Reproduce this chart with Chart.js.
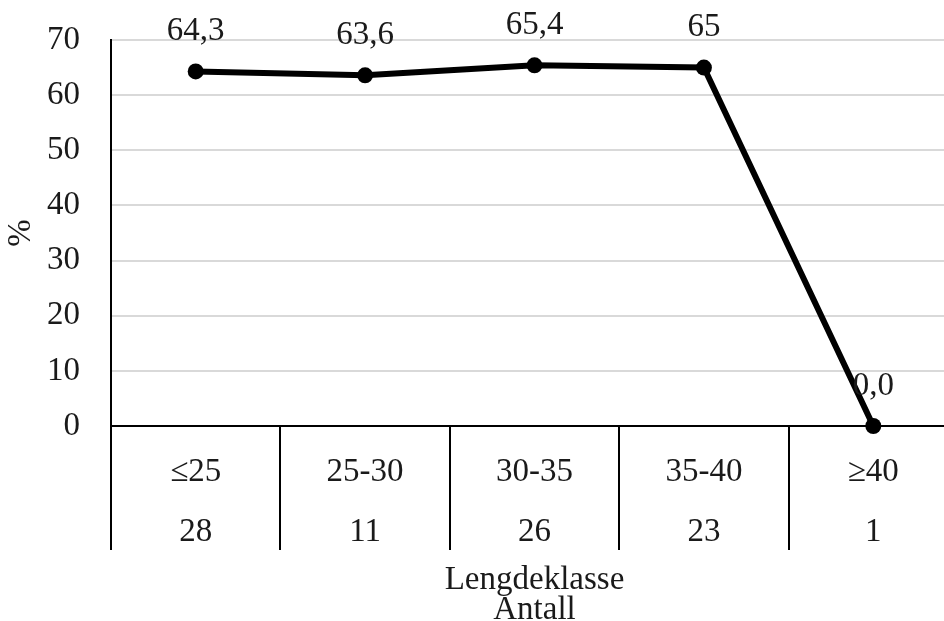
<!DOCTYPE html>
<html>
<head>
<meta charset="utf-8">
<script src="https://cdn.jsdelivr.net/npm/chart.js@4"></script>
<style>
  html, body { margin: 0; padding: 0; background: #fff; overflow: hidden; }
  #wrap { width: 944px; height: 621px; overflow: hidden; }
</style>
</head>
<body>
<div id="wrap"><canvas id="myChart" width="966" height="621"></canvas></div>
<script>
const classes = ['≤25', '25-30', '30-35', '35-40', '≥40'];
const counts = ['28', '11', '26', '23', '1'];
const values = [64.3, 63.6, 65.4, 65, 0.0];
const valueLabels = ['64,3', '63,6', '65,4', '65', '0,0'];
const yTicks = [0, 10, 20, 30, 40, 50, 60, 70];

const FONT = '"Liberation Serif", "Times New Roman", serif';
const TEXT = '#1a1a1a';

const labels = classes.map((c, i) => [c, counts[i]]);

// simple value labels above each point
const pointLabels = {
  id: 'pointLabels',
  afterDatasetsDraw(chart) {
    const ctx = chart.ctx;
    const meta = chart.getDatasetMeta(0);
    ctx.save();
    ctx.font = '33px ' + FONT;
    ctx.fillStyle = TEXT;
    ctx.textAlign = 'center';
    ctx.textBaseline = 'middle';
    meta.data.forEach((pt, i) => {
      ctx.fillText(valueLabels[i], pt.x, pt.y - 40);
    });
    ctx.restore();
  }
};

const ctx = document.getElementById('myChart').getContext('2d');
const myChart = new Chart(ctx, {
  type: 'line',
  data: {
    labels,
    datasets: [{
      data: values,
      borderColor: '#000',
      borderWidth: 6,
      pointRadius: 8,
      pointHoverRadius: 8,
      pointBackgroundColor: '#000',
      pointBorderWidth: 0,
      fill: false,
      tension: 0,
      clip: false,
    }],
  },
  options: {
    responsive: false,
    devicePixelRatio: 1,
    animation: false,
    layout: { padding: { top: 40, right: 1, left: 0, bottom: 0 } },
    plugins: {
      legend: { display: false },
      tooltip: { enabled: false },
    },
    scales: {
      x: {
        type: 'category',
        offset: true,
        afterFit: (s) => { s.height = 195; },
        grid: {
          offset: true,
          drawOnChartArea: false,
          drawTicks: true,
          tickLength: 124,
          color: '#000',
          lineWidth: 2,
        },
        border: { color: '#000', width: 2 },
        ticks: {
          padding: -108,
          maxRotation: 0,
          autoSkip: false,
          color: TEXT,
          font: { family: FONT, size: 33, lineHeight: 60 / 33 },
        },
        title: {
          display: true,
          text: ['Lengdeklasse', 'Antall'],
          color: TEXT,
          padding: { top: 0, bottom: -4 },
          font: { family: FONT, size: 33, lineHeight: 30 / 33 },
        },
      },
      y: {
        min: 0,
        max: 70,
        afterFit: (s) => {
          s.width = 111;
          s.paddingTop = 20;
          s.paddingBottom = 20;
        },
        afterBuildTicks: (s) => { s.ticks = yTicks.map(v => ({ value: v })); },
        grid: {
          color: '#d9d9d9',
          lineWidth: 2,
          drawTicks: false,
        },
        border: { color: '#000', width: 2 },
        ticks: {
          padding: 31,
          color: TEXT,
          font: { family: FONT, size: 33 },
        },
        title: {
          display: true,
          text: '%',
          color: TEXT,
          padding: { top: 2, bottom: 0 },
          font: { family: FONT, size: 33 },
        },
      },
    },
  },
  plugins: [pointLabels],
});
</script>
</body>
</html>
